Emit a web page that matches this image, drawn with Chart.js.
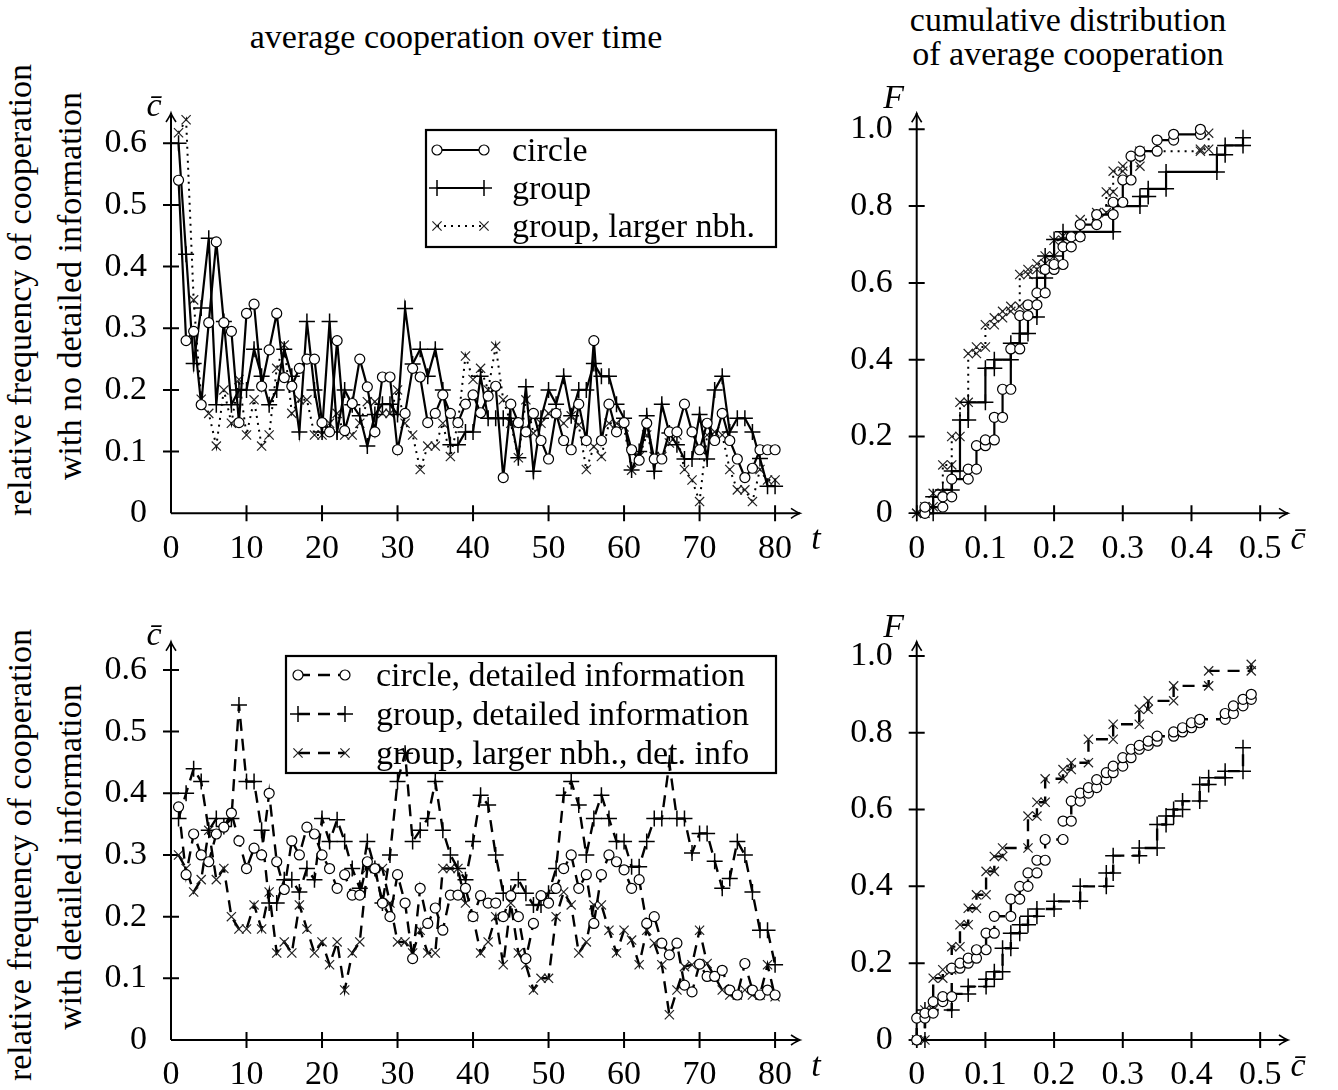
<!DOCTYPE html>
<html><head><meta charset="utf-8">
<script src="https://cdn.jsdelivr.net/npm/chart.js@4.4.0/dist/chart.umd.min.js"></script>
<style>
html,body{margin:0;padding:0;background:#fff;overflow:hidden;width:1338px;height:1090px;}
canvas{position:absolute;}
.lbl{position:absolute;font-family:"Liberation Serif",serif;font-size:34px;color:#000;white-space:nowrap;line-height:1;}
.rot{transform:translate(-50%,-50%) rotate(-90deg);}
.ctr{transform:translate(-50%,-50%);}
</style></head><body>
<div class="lbl ctr" style="left:456px;top:37px">average cooperation over time</div>
<div class="lbl ctr" style="left:1068px;top:20px">cumulative distribution</div>
<div class="lbl ctr" style="left:1068px;top:54px">of average cooperation</div>
<div class="lbl rot" style="left:20px;top:290px">relative frequency of cooperation</div>
<div class="lbl rot" style="left:70px;top:286px">with no detailed information</div>
<div class="lbl rot" style="left:20px;top:855px">relative frequency of cooperation</div>
<div class="lbl rot" style="left:70px;top:857px">with detailed information</div>
<canvas id="c1"></canvas>
<canvas id="c2"></canvas>
<canvas id="c3"></canvas>
<canvas id="c4"></canvas>
<script>
// ---------------- data ----------------
const tSteps = [1,2,3,4,5,6,7,8,9,10,11,12,13,14,15,16,17,18,19,20,21,22,23,24,25,26,27,28,29,30,31,32,33,34,35,36,37,38,39,40,41,42,43,44,45,46,47,48,49,50,51,52,53,54,55,56,57,58,59,60,61,62,63,64,65,66,67,68,69,70,71,72,73,74,75,76,77,78,79,80];

const circleNoInfo = [0.54,0.28,0.295,0.176,0.309,0.44,0.309,0.295,0.147,0.324, 0.339,0.206,0.265,0.324,0.22,0.206,0.235,0.25,0.25,0.147, 0.132,0.28,0.134,0.178,0.25,0.205,0.132,0.221,0.221,0.103, 0.162,0.235,0.221,0.147,0.162,0.192,0.162,0.147,0.177,0.192, 0.163,0.19,0.206,0.058,0.177,0.147,0.132,0.162,0.118,0.088, 0.162,0.118,0.103,0.177,0.118,0.28,0.118,0.177,0.132,0.147, 0.103,0.086,0.146,0.088,0.088,0.132,0.132,0.177,0.132,0.103, 0.146,0.118,0.162,0.118,0.088,0.058,0.073,0.103,0.103,0.103];
const groupNoInfo = [0.6,0.42,0.243,0.333,0.446,0.176,0.311,0.176,0.2,0.2, 0.266,0.222,0.176,0.2,0.266,0.222,0.132,0.311,0.2,0.132, 0.311,0.132,0.2,0.176,0.158,0.109,0.16,0.177,0.177,0.16, 0.332,0.242,0.266,0.222,0.266,0.2,0.111,0.111,0.132,0.132, 0.222,0.154,0.154,0.154,0.154,0.09,0.205,0.068,0.154,0.2, 0.177,0.222,0.158,0.2,0.2,0.243,0.222,0.222,0.177,0.154, 0.07,0.1,0.158,0.068,0.177,0.13,0.111,0.088,0.088,0.16, 0.088,0.2,0.222,0.132,0.154,0.154,0.132,0.089,0.044,0.044];
const largerNoInfo = [0.617,0.638,0.346,0.185,0.162,0.109,0.2,0.146,0.217,0.127, 0.184,0.109,0.127,0.235,0.273,0.162,0.184,0.184,0.127,0.127, 0.146,0.162,0.127,0.127,0.146,0.181,0.181,0.162,0.162,0.2, 0.146,0.127,0.071,0.109,0.109,0.146,0.092,0.146,0.255,0.217, 0.235,0.2,0.271,0.184,0.146,0.09,0.184,0.13,0.146,0.162, 0.162,0.146,0.158,0.143,0.071,0.108,0.092,0.146,0.146,0.14, 0.07,0.092,0.127,0.092,0.092,0.114,0.127,0.071,0.054,0.019, 0.127,0.132,0.127,0.071,0.038,0.038,0.019,0.071,0.054,0.054];

const circleDet = [0.378,0.268,0.334,0.3,0.289,0.334,0.345,0.368,0.323,0.278, 0.311,0.3,0.4,0.289,0.244,0.323,0.3,0.345,0.334,0.3, 0.278,0.246,0.268,0.235,0.235,0.289,0.278,0.222,0.2,0.268, 0.222,0.132,0.246,0.189,0.214,0.178,0.235,0.235,0.246,0.2, 0.234,0.222,0.222,0.2,0.234,0.2,0.132,0.189,0.234,0.222, 0.246,0.278,0.3,0.246,0.268,0.189,0.268,0.3,0.289,0.276, 0.246,0.26,0.189,0.2,0.157,0.138,0.157,0.089,0.078,0.123, 0.103,0.103,0.113,0.081,0.073,0.124,0.081,0.073,0.081,0.073];
const groupDet = [0.359,0.4,0.44,0.419,0.34,0.359,0.346,0.359,0.543,0.419, 0.419,0.34,0.222,0.222,0.26,0.26,0.24,0.278,0.26,0.359, 0.322,0.357,0.322,0.278,0.246,0.322,0.278,0.222,0.3,0.419, 0.465,0.322,0.34,0.359,0.419,0.34,0.3,0.278,0.26,0.322, 0.397,0.381,0.3,0.238,0.238,0.26,0.238,0.219,0.219,0.238, 0.278,0.397,0.419,0.381,0.3,0.359,0.397,0.359,0.322,0.322, 0.281,0.281,0.322,0.359,0.359,0.449,0.359,0.359,0.303,0.335, 0.335,0.29,0.246,0.262,0.322,0.3,0.24,0.178,0.178,0.122];
const largerDet = [0.3,0.278,0.24,0.26,0.34,0.26,0.278,0.2,0.18,0.18, 0.219,0.18,0.24,0.141,0.159,0.141,0.219,0.18,0.141,0.159, 0.122,0.159,0.081,0.141,0.159,0.278,0.278,0.278,0.222,0.159, 0.159,0.141,0.178,0.141,0.141,0.278,0.278,0.278,0.222,0.2, 0.141,0.159,0.2,0.122,0.222,0.141,0.122,0.081,0.1,0.1, 0.2,0.24,0.219,0.141,0.159,0.219,0.219,0.178,0.141,0.178, 0.162,0.122,0.178,0.157,0.122,0.041,0.081,0.119,0.122,0.178, 0.124,0.103,0.081,0.073,0.073,0.081,0.073,0.073,0.122,0.07];

// cumulative distributions: jump positions (c-bar) and F after each jump
const cdfCircleNoX = [0.012,0.038,0.051,0.075,0.087,0.1,0.113,0.125,0.137,0.15,0.162,0.175,0.187,0.2,0.213,0.225,0.238,0.262,0.286,0.3,0.312,0.325,0.35,0.374,0.413];
const cdfCircleNoF = [0.016,0.043,0.089,0.115,0.176,0.191,0.25,0.323,0.428,0.515,0.543,0.574,0.635,0.648,0.694,0.72,0.752,0.778,0.81,0.868,0.93,0.943,0.972,0.987,1.0];
const cdfGroupNoX = [0,0.024,0.038,0.051,0.063,0.075,0.1,0.113,0.137,0.15,0.162,0.175,0.187,0.2,0.213,0.286,0.325,0.337,0.363,0.437,0.449,0.475];
const cdfGroupNoF = [0,0.043,0.061,0.11,0.243,0.289,0.378,0.4,0.443,0.468,0.511,0.613,0.67,0.713,0.733,0.8,0.825,0.845,0.889,0.934,0.958,0.978];
const cdfLargerNoX = [0,0.012,0.024,0.038,0.051,0.063,0.075,0.087,0.1,0.113,0.125,0.137,0.15,0.162,0.175,0.187,0.2,0.213,0.238,0.262,0.276,0.286,0.3,0.325,0.413,0.425];
const cdfLargerNoF = [0,0.017,0.052,0.126,0.2,0.289,0.416,0.433,0.491,0.509,0.526,0.539,0.622,0.635,0.65,0.67,0.711,0.722,0.765,0.783,0.837,0.891,0.904,0.943,0.948,0.99];

const cdfCircleDetX = [0,0.012,0.024,0.038,0.051,0.063,0.075,0.087,0.101,0.113,0.137,0.15,0.162,0.175,0.187,0.213,0.225,0.238,0.25,0.262,0.276,0.286,0.3,0.312,0.324,0.337,0.35,0.374,0.387,0.4,0.412,0.449,0.461,0.475,0.487];
const cdfCircleDetF = [0.057,0.07,0.1,0.113,0.187,0.2,0.213,0.235,0.278,0.322,0.367,0.4,0.435,0.468,0.522,0.57,0.622,0.643,0.657,0.678,0.696,0.713,0.735,0.757,0.767,0.778,0.791,0.802,0.813,0.826,0.835,0.85,0.87,0.887,0.9];
const cdfGroupDetX = [0,0.012,0.051,0.075,0.101,0.113,0.125,0.137,0.15,0.162,0.175,0.2,0.238,0.276,0.286,0.324,0.35,0.363,0.374,0.387,0.412,0.425,0.449,0.475];
const cdfGroupDetF = [0,0.078,0.12,0.139,0.158,0.178,0.239,0.278,0.3,0.322,0.341,0.361,0.4,0.435,0.48,0.5,0.561,0.583,0.6,0.622,0.665,0.683,0.7,0.761];
const cdfLargerDetX = [0,0.012,0.024,0.038,0.051,0.063,0.075,0.087,0.101,0.113,0.125,0.162,0.175,0.187,0.213,0.225,0.25,0.286,0.324,0.337,0.374,0.425,0.487];
const cdfLargerDetF = [0,0.078,0.161,0.183,0.243,0.3,0.343,0.378,0.439,0.478,0.5,0.583,0.619,0.68,0.704,0.722,0.783,0.822,0.861,0.883,0.922,0.961,0.978];

// ticks
const timeTicks = [0,10,20,30,40,50,60,70,80];
const timeTickLabels = ['0','10','20','30','40','50','60','70','80'];
const coopTicks = [0,0.1,0.2,0.3,0.4,0.5,0.6];
const coopTickLabels = ['0','0.1','0.2','0.3','0.4','0.5','0.6'];
const cdfXTicks = [0,0.1,0.2,0.3,0.4,0.5];
const cdfXTickLabels = ['0','0.1','0.2','0.3','0.4','0.5'];
const cdfYTicks = [0,0.2,0.4,0.6,0.8,1.0];
const cdfYTickLabels = ['0','0.2','0.4','0.6','0.8','1.0'];

const legendNoInfo = ['circle','group','group, larger nbh.'];
const legendDet = ['circle, detailed information','group, detailed information','group, larger nbh., det. info'];

// ---------------- helpers ----------------
const FONT = '"Liberation Serif", "Times New Roman", serif';
function tsData(vals){ return vals.map((v,i)=>({x:tSteps[i], y:v})); }
function cdfData(xs, Fs){ const pts=[]; let prev=0; xs.forEach((x,i)=>{ pts.push({x:x,y:prev}); pts.push({x:x,y:Fs[i]}); prev=Fs[i]; }); return pts; }

const circleStyle = {pointStyle:'circle', pointRadius:5, pointBackgroundColor:'#fff', pointBorderColor:'#000', pointBorderWidth:1.2};
const plusStyle = {pointStyle:'cross', pointRadius:8, pointBackgroundColor:'#fff', pointBorderColor:'#000', pointBorderWidth:1.5};
const xStyle = {pointStyle:'crossRot', pointRadius:6.5, pointBackgroundColor:'#fff', pointBorderColor:'#222', pointBorderWidth:1.2};
const solid = {borderColor:'#000', borderWidth:2.2, borderDash:[]};
const dotted = {borderColor:'#000', borderWidth:2, borderDash:[2,5]};
const dashed = {borderColor:'#000', borderWidth:2.4, borderDash:[12,8]};

function ds(label, data, line, mark){
  return Object.assign({label:label, data:data, showLine:true, clip:false, pointHoverRadius:0}, line, mark);
}

function drawMark(ctx, style, r, bw, x, y, stroke){
  ctx.save(); ctx.setLineDash([]); ctx.lineWidth=bw; ctx.strokeStyle=stroke; ctx.fillStyle='#fff';
  ctx.beginPath();
  if(style==='circle'){ ctx.arc(x,y,r,0,Math.PI*2); ctx.fill(); ctx.stroke(); }
  else if(style==='cross'){ ctx.moveTo(x-r,y); ctx.lineTo(x+r,y); ctx.moveTo(x,y-r); ctx.lineTo(x,y+r); ctx.stroke(); }
  else { const d=r*Math.SQRT1_2; ctx.moveTo(x-d,y-d); ctx.lineTo(x+d,y+d); ctx.moveTo(x+d,y-d); ctx.lineTo(x-d,y+d); ctx.stroke(); }
  ctx.restore();
}

const texAxes = {
  id:'texAxes',
  beforeDatasetsDraw(chart, args, o){
    const ctx=chart.ctx, a=chart.chartArea, xs=chart.scales.x, ys=chart.scales.y;
    const ox=xs.getPixelForValue(0), oy=ys.getPixelForValue(0);
    ctx.save(); ctx.setLineDash([]); ctx.strokeStyle='#000'; ctx.lineWidth=2; ctx.lineCap='butt';
    ctx.beginPath(); ctx.moveTo(ox,oy); ctx.lineTo(a.right,oy); ctx.moveTo(ox,oy); ctx.lineTo(ox,a.top); ctx.stroke();
    ctx.lineWidth=1.6;
    ctx.beginPath();
    ctx.moveTo(a.right-9,oy-5); ctx.quadraticCurveTo(a.right-3,oy-1,a.right,oy); ctx.quadraticCurveTo(a.right-3,oy+1,a.right-9,oy+5);
    ctx.moveTo(ox-5,a.top+9); ctx.quadraticCurveTo(ox-1,a.top+3,ox,a.top); ctx.quadraticCurveTo(ox+1,a.top+3,ox+5,a.top+9);
    ctx.stroke();
    ctx.lineWidth=2;
    ctx.beginPath();
    xs.ticks.forEach(t=>{ const p=xs.getPixelForValue(t.value); if(t.value!==0){ ctx.moveTo(p,oy-8); ctx.lineTo(p,oy+8);} });
    ys.ticks.forEach(t=>{ const p=ys.getPixelForValue(t.value); if(t.value!==0){ ctx.moveTo(ox-8,p); ctx.lineTo(ox+8,p);} });
    ctx.stroke();
    ctx.fillStyle='#000'; ctx.font='italic 34px '+FONT; ctx.textAlign='center'; ctx.textBaseline='middle';
    ctx.fillText(o.yName, ox+o.yOff[0], a.top+o.yOff[1]);
    ctx.fillText(o.xName, a.right+o.xOff[0], oy+o.xOff[1]);
    ctx.restore();
  }
};

const texLegend = {
  id:'texLegend',
  beforeDatasetsDraw(chart, args, o){
    if(!o.box) return;
    const ctx=chart.ctx; const [bx,by,bw,bh]=o.box;
    ctx.save(); ctx.fillStyle='#fff'; ctx.fillRect(bx,by,bw,bh); ctx.lineWidth=2.2; ctx.strokeStyle='#000'; ctx.setLineDash([]); ctx.strokeRect(bx,by,bw,bh);
    chart.data.datasets.forEach((d,i)=>{
      const cy=by+o.rowY[i], x1=bx+o.lineX[0], x2=bx+o.lineX[1];
      ctx.save(); ctx.strokeStyle='#000'; ctx.lineWidth=d.borderWidth; ctx.setLineDash(d.borderDash||[]);
      ctx.beginPath(); ctx.moveTo(x1,cy); ctx.lineTo(x2,cy); ctx.stroke(); ctx.restore();
      drawMark(ctx, d.pointStyle, d.pointRadius, d.pointBorderWidth, x1, cy, d.pointBorderColor);
      drawMark(ctx, d.pointStyle, d.pointRadius, d.pointBorderWidth, x2, cy, d.pointBorderColor);
      ctx.fillStyle='#000'; ctx.font='34px '+FONT; ctx.textAlign='left'; ctx.textBaseline='middle';
      ctx.fillText(d.label, bx+o.textX, cy+2);
    });
    ctx.restore();
  }
};

function makeChart(id, rect, area, xr, yr, xt, xtl, yt, ytl, datasets, axes, legend){
  const cv=document.getElementById(id);
  cv.style.left=rect[0]+'px'; cv.style.top=rect[1]+'px';
  cv.width=rect[2]; cv.height=rect[3];
  const tickFont={family:FONT, size:34};
  return new Chart(cv, {
    type:'scatter',
    data:{datasets:datasets},
    options:{
      responsive:false, animation:false, devicePixelRatio:1, events:[],
      layout:{padding:{left:0, top:area.top-rect[1], right:rect[0]+rect[2]-area.right, bottom:0}},
      plugins:{legend:{display:false}, tooltip:{enabled:false}, texAxes:axes, texLegend:legend||{}},
      scales:{
        x:{type:'linear', min:xr[0], max:xr[1],
           grid:{display:false, drawTicks:false}, border:{display:false},
           ticks:{color:'#000', font:tickFont, padding:15, maxRotation:0, autoSkip:false,
                  callback:(v)=>{const i=xt.indexOf(v); return i>=0?xtl[i]:'';}},
           afterBuildTicks:(s)=>{ s.ticks=xt.map(v=>({value:v})); },
           afterFit:(s)=>{ s.height=rect[1]+rect[3]-area.bottom; }},
        y:{type:'linear', min:yr[0], max:yr[1],
           grid:{display:false, drawTicks:false}, border:{display:false},
           ticks:{color:'#000', font:tickFont, padding:24, autoSkip:false,
                  callback:(v)=>{const i=yt.indexOf(v); return i>=0?ytl[i]:'';}},
           afterBuildTicks:(s)=>{ s.ticks=yt.map(v=>({value:v})); },
           afterFit:(s)=>{ s.width=area.left-rect[0]; }}
      }
    },
    plugins:[texAxes, texLegend]
  });
}

const CBAR = 'c\u0304';

// top-left
makeChart('c1', [90,60,760,510], {left:171, top:113, right:800, bottom:513.3}, [0,83.3], [0,0.649],
  timeTicks, timeTickLabels, coopTicks, coopTickLabels,
  [ ds(legendNoInfo[0], tsData(circleNoInfo), solid, circleStyle),
    ds(legendNoInfo[1], tsData(groupNoInfo), solid, plusStyle),
    ds(legendNoInfo[2], tsData(largerNoInfo), dotted, xStyle) ],
  {yName:CBAR, yOff:[-17,-6], xName:'t', xOff:[16,27]},
  {box:[336,70,350,117], rowY:[20,58,96], lineX:[11,58], textX:86});

// bottom-left
makeChart('c3', [90,585,760,500], {left:171, top:641.7, right:800, bottom:1040}, [0,83.3], [0,0.6458],
  timeTicks, timeTickLabels, coopTicks, coopTickLabels,
  [ ds(legendDet[0], tsData(circleDet), dashed, circleStyle),
    ds(legendDet[1], tsData(groupDet), dashed, plusStyle),
    ds(legendDet[2], tsData(largerDet), dashed, xStyle) ],
  {yName:CBAR, yOff:[-17,-6], xName:'t', xOff:[16,27]},
  {box:[196,71,490,117], rowY:[19,58,97], lineX:[12,59], textX:90});

// top-right
makeChart('c2', [830,60,500,510], {left:916.7, top:113.3, right:1288, bottom:513.3}, [0,0.5405], [0,1.0417],
  cdfXTicks, cdfXTickLabels, cdfYTicks, cdfYTickLabels,
  [ ds(legendNoInfo[0], cdfData(cdfCircleNoX, cdfCircleNoF), solid, circleStyle),
    ds(legendNoInfo[1], cdfData(cdfGroupNoX, cdfGroupNoF), solid, plusStyle),
    ds(legendNoInfo[2], cdfData(cdfLargerNoX, cdfLargerNoF), dotted, xStyle) ],
  {yName:'F', yOff:[-23,-14], xName:CBAR, xOff:[10,27]}, null);

// bottom-right
makeChart('c4', [830,585,500,500], {left:916.7, top:641.7, right:1288, bottom:1040}, [0,0.5405], [0,1.037],
  cdfXTicks, cdfXTickLabels, cdfYTicks, cdfYTickLabels,
  [ ds(legendDet[0], cdfData(cdfCircleDetX, cdfCircleDetF), dashed, circleStyle),
    ds(legendDet[1], cdfData(cdfGroupDetX, cdfGroupDetF), dashed, plusStyle),
    ds(legendDet[2], cdfData(cdfLargerDetX, cdfLargerDetF), dashed, xStyle) ],
  {yName:'F', yOff:[-23,-14], xName:CBAR, xOff:[10,27]}, null);
</script>
</body></html>
